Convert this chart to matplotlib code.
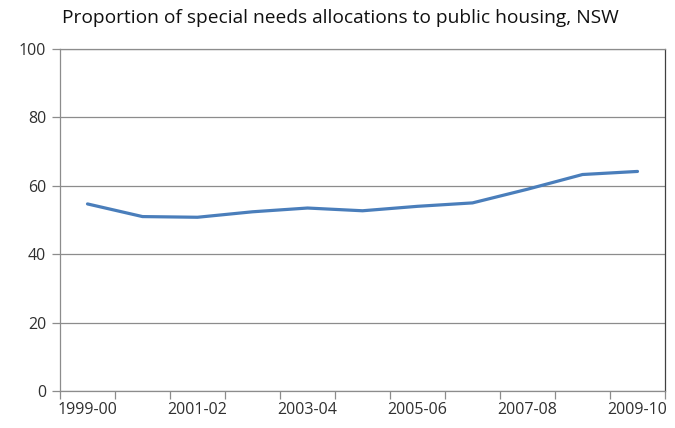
import matplotlib
matplotlib.use("Agg")
import matplotlib.pyplot as plt
import numpy as np

years = ["1999-00", "2000-01", "2001-02", "2002-03", "2003-04", "2004-05",
         "2005-06", "2006-07", "2007-08", "2008-09", "2009-10"]
proportion = [54.7, 51.0, 50.8, 52.4, 53.5, 52.7, 54.0, 55.0, 59.0, 63.3, 64.2]
y_ticks = [0, 20, 40, 60, 80, 100]
title = "Proportion of special needs allocations to public housing, NSW"

plt.rcParams["font.family"] = ["Open Sans", "DejaVu Sans"]

fig = plt.figure(figsize=(6.75, 4.28), dpi=100)
ax = fig.add_axes([60 / 675, 37 / 428, 605 / 675, 342 / 428])

x = np.arange(len(years))
ax.plot(x, proportion, color="#4A7EBB", linewidth=2.3, solid_capstyle="round",
        solid_joinstyle="round", zorder=3)

ax.set_ylim(0, 100)
ax.set_xlim(-0.5, len(years) - 0.5)
ax.set_yticks(y_ticks)
ax.set_yticklabels([str(t) for t in y_ticks])
ax.yaxis.grid(True, color="#8C8C8C", linewidth=0.9)
ax.set_axisbelow(True)

# category labels on every second year, tick marks between categories
ax.set_xticks(x[::2])
ax.set_xticklabels(years[::2])
ax.set_xticks(np.arange(-0.5, len(years)), minor=True)
ax.tick_params(axis="x", which="major", length=0, pad=8)
ax.tick_params(axis="x", which="minor", length=6, color="#8C8C8C", width=0.9)
ax.tick_params(axis="y", length=6, color="#8C8C8C", width=0.9, pad=4)
ax.tick_params(labelsize=11.5, labelcolor="#303030")

for side in ["left", "bottom", "top"]:
    ax.spines[side].set_color("#8C8C8C")
    ax.spines[side].set_linewidth(0.9)
ax.spines["right"].set_color("#404040")
ax.spines["right"].set_linewidth(0.9)

fig.text(340 / 675, 1 - 18 / 428, title, ha="center", va="center",
         fontsize=13.8, color="#101010")

fig.savefig("out.png", dpi=100, facecolor="white")
